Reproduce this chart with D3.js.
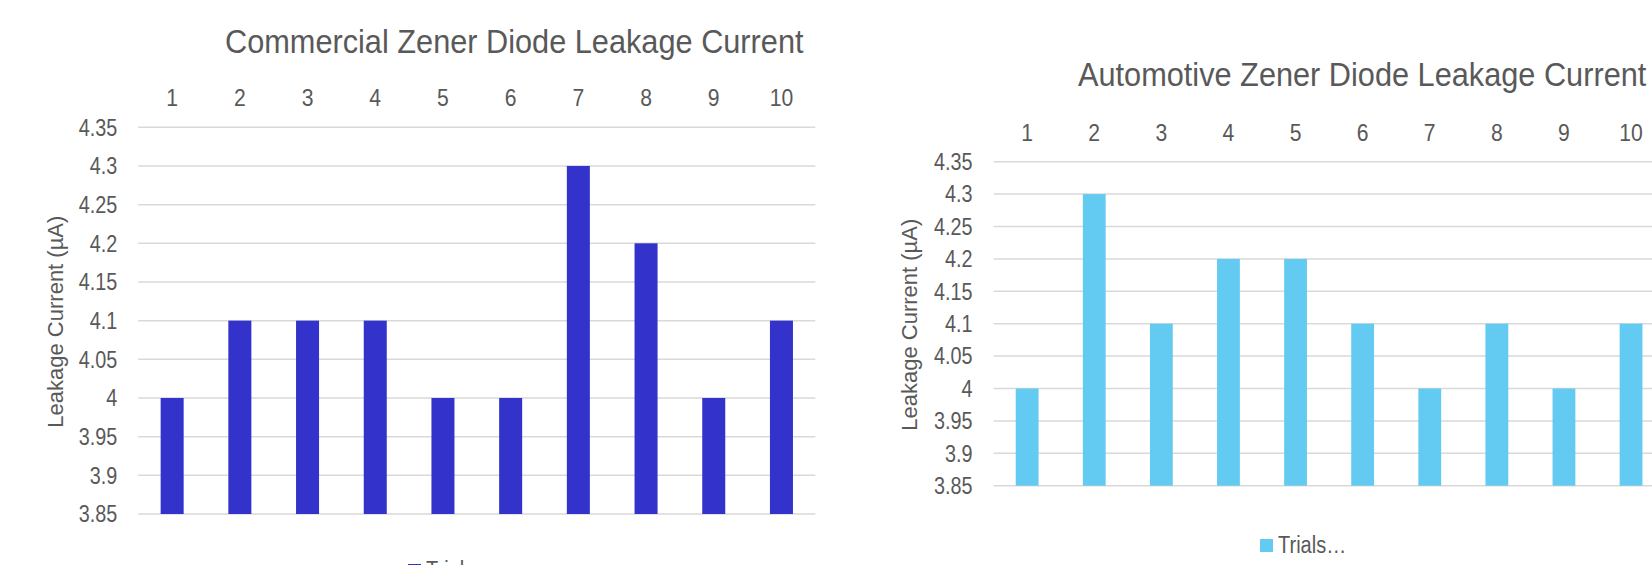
<!DOCTYPE html>
<html>
<head>
<meta charset="utf-8">
<script src="https://cdn.jsdelivr.net/npm/d3@7"></script>
<style>
  html, body { margin: 0; padding: 0; background: #fff; overflow: hidden; }
  svg { display: block; font-family: "Liberation Sans", Arial, sans-serif; }
</style>
</head>
<body>
<svg id="chart" width="1652" height="565"></svg>
<script>
// Trial numbers along the top axis
const trials = ["1", "2", "3", "4", "5", "6", "7", "8", "9", "10"];

// Leakage current per trial (µA)
const commercialLeakage = [4.0, 4.1, 4.1, 4.1, 4.0, 4.0, 4.3, 4.2, 4.0, 4.1];
const automotiveLeakage = [4.0, 4.3, 4.1, 4.2, 4.2, 4.1, 4.0, 4.1, 4.0, 4.1];

// Value axis ticks
const yTicks = [3.85, 3.9, 3.95, 4.0, 4.05, 4.1, 4.15, 4.2, 4.25, 4.3, 4.35];
const yDomain = [3.85, 4.35];

const textColor = "#595959";
const gridColor = "#d9d9d9";

const svg = d3.select("#chart");

// place a text at (x, y) with a slight horizontal condensing
function placed(sel, fx, fy, sx) {
  return sel.attr("transform", (d, i) => `translate(${fx(d, i)},${fy(d, i)}) scale(${sx},1)`);
}

function drawPanel(cfg) {
  const g = svg.append("g");

  const x = d3.scaleBand()
    .domain(trials)
    .range([cfg.x0, cfg.x1])
    .paddingInner(0.66)
    .paddingOuter(0.33);

  const y = d3.scaleLinear()
    .domain(yDomain)
    .range([cfg.yBottom, cfg.yTop]);

  // horizontal gridlines
  g.append("g")
    .selectAll("line")
    .data(yTicks)
    .join("line")
    .attr("x1", cfg.x0)
    .attr("x2", cfg.x1)
    .attr("y1", d => y(d))
    .attr("y2", d => y(d))
    .attr("stroke", gridColor)
    .attr("stroke-width", 1.5);

  // value labels on the left
  const fmt = d => String(+d.toFixed(2));
  placed(
    g.append("g")
      .selectAll("text")
      .data(yTicks)
      .join("text"),
    () => cfg.x0 - 21, d => y(d), 0.86)
    .attr("dy", "0.36em")
    .attr("text-anchor", "end")
    .attr("font-size", 23)
    .attr("fill", textColor)
    .text(fmt);

  // trial labels along the top
  placed(
    g.append("g")
      .selectAll("text")
      .data(trials)
      .join("text"),
    d => x(d) + x.bandwidth() / 2, () => cfg.yTop - 21, 0.92)
    .attr("text-anchor", "middle")
    .attr("font-size", 23)
    .attr("fill", textColor)
    .text(d => d);

  // bars rise from the axis minimum
  g.append("g")
    .selectAll("rect")
    .data(cfg.values)
    .join("rect")
    .attr("x", (d, i) => x(trials[i]))
    .attr("width", x.bandwidth())
    .attr("y", d => y(d))
    .attr("height", d => y(yDomain[0]) - y(d))
    .attr("fill", cfg.color);

  // title
  g.append("text")
    .attr("transform", `translate(${cfg.titleX},${cfg.titleY}) scale(0.945,1)`)
    .attr("font-size", 32.5)
    .attr("fill", textColor)
    .text(cfg.title);

  // axis title
  g.append("text")
    .attr("transform", `translate(${cfg.axisTitleX},${(cfg.yTop + cfg.yBottom) / 2 + 1}) rotate(-90)`)
    .attr("text-anchor", "middle")
    .attr("font-size", 22)
    .attr("fill", textColor)
    .text("Leakage Current (µA)");

  // legend
  const lg = g.append("g").attr("transform", `translate(${cfg.legendX},${cfg.legendY})`);
  lg.append("rect")
    .attr("x", 0).attr("y", 0)
    .attr("width", 13).attr("height", 13)
    .attr("fill", cfg.color);
  lg.append("text")
    .attr("transform", "translate(18,13.5) scale(0.87,1)")
    .attr("font-size", 23)
    .attr("fill", textColor)
    .text("Trials…");
}

drawPanel({
  x0: 138.3, x1: 815.3, yTop: 127.3, yBottom: 514,
  values: commercialLeakage, color: "#3333cc",
  title: "Commercial Zener Diode Leakage Current",
  titleX: 225, titleY: 52.5,
  axisTitleX: 63,
  legendX: 408, legendY: 564
});

drawPanel({
  x0: 993.6, x1: 1664.6, yTop: 161.7, yBottom: 485.7,
  values: automotiveLeakage, color: "#63caf2",
  title: "Automotive Zener Diode Leakage Current",
  titleX: 1078, titleY: 85.5,
  axisTitleX: 917,
  legendX: 1260, legendY: 539
});
</script>
</body>
</html>
